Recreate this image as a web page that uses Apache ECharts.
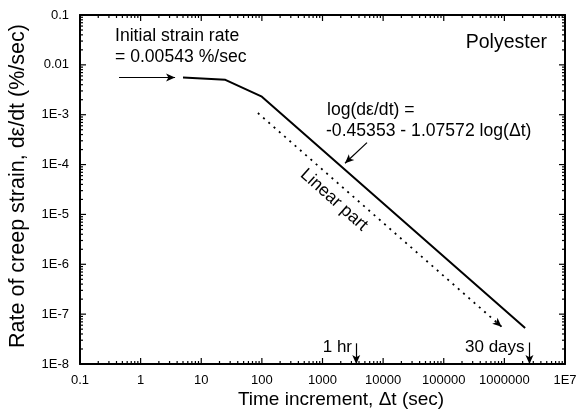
<!DOCTYPE html>
<html>
<head>
<meta charset="utf-8">
<script src="https://cdn.jsdelivr.net/npm/echarts@6/dist/echarts.min.js"></script>
<style>
  html, body { margin: 0; padding: 0; background: #fff; }
  #chart { width: 581px; height: 417px; }
</style>
</head>
<body>
<div id="chart"></div>
<script>
// Creep strain rate of polyester vs. time increment (log-log)
const timeSec    = [5, 25, 100, 2.2e6];
const strainRate = [0.0056, 0.005, 0.0023, 5.3e-8];

// dotted "linear part" guide
const linearStart = [86, 1.08e-3];
const linearEnd   = [9.0e5, 5.6e-8];

// arrows: initial rate, equation pointer, 1 hr, 30 days
const initialArrow  = [[0.44, 0.0056], [3.7, 0.0056]];
const equationArrow = [[5420, 2.75e-4], [2350, 1.06e-4]];
const hourArrow     = [[3600, 2.6e-8], [3600, 1e-8]];
const monthArrow    = [[2.592e6, 2.7e-8], [2.592e6, 1e-8]];

const xTickLabels = ['0.1', '1', '10', '100', '1000', '10000', '100000', '1000000', '1E7'];
const yTickLabels = ['1E-8', '1E-7', '1E-6', '1E-5', '1E-4', '1E-3', '0.01', '0.1'];

const X_MIN = 0.1, X_MAX = 1e7, Y_MIN = 1e-8, Y_MAX = 0.1;
const FONT = "'Liberation Sans', Arial, Helvetica, sans-serif";

// tick marks (decades and 2..9 within each decade) for the frame
function logTicks(lo, hi) {
  const out = [];
  for (let e = Math.round(Math.log10(lo)); e < Math.round(Math.log10(hi)); e++) {
    for (let k = 1; k <= 9; k++) out.push({ v: k * Math.pow(10, e), major: k === 1 });
  }
  out.push({ v: hi, major: true });
  return out;
}
const tickData = [];
logTicks(X_MIN, X_MAX).forEach(t => tickData.push([t.v, Y_MIN, 0, t.major ? 1 : 0]));
logTicks(Y_MIN, Y_MAX).forEach(t => tickData.push([X_MIN, t.v, 1, t.major ? 1 : 0]));

const chart = echarts.init(document.getElementById('chart'));

function arrowLine(pair) {
  return [
    { coord: pair[0], symbol: 'none' },
    { coord: pair[1], symbol: 'arrow', symbolSize: [6, 9] }
  ];
}

const option = {
  animation: false,
  backgroundColor: '#fff',
  grid: { left: 80, top: 15, width: 485, height: 349, show: false },
  xAxis: [{
    type: 'log', logBase: 10, min: X_MIN, max: X_MAX, interval: 1,
    position: 'bottom',
    axisLine: { show: true, lineStyle: { color: '#000', width: 2 } },
    axisTick: { show: false },
    splitLine: { show: false },
    axisLabel: {
      margin: 10, color: '#000', fontSize: 13, fontFamily: FONT,
      formatter: v => xTickLabels[Math.round(Math.log10(v)) + 1]
    }
  }, {
    type: 'log', logBase: 10, min: X_MIN, max: X_MAX, interval: 1,
    position: 'top',
    axisLine: { show: true, lineStyle: { color: '#000', width: 2 } },
    axisTick: { show: false }, axisLabel: { show: false }, splitLine: { show: false }
  }],
  yAxis: [{
    type: 'log', logBase: 10, min: Y_MIN, max: Y_MAX, interval: 1,
    position: 'left',
    axisLine: { show: true, lineStyle: { color: '#000', width: 2 } },
    axisTick: { show: false },
    splitLine: { show: false },
    axisLabel: {
      margin: 11, color: '#000', fontSize: 13, fontFamily: FONT,
      formatter: v => yTickLabels[Math.round(Math.log10(v)) + 8]
    }
  }, {
    type: 'log', logBase: 10, min: Y_MIN, max: Y_MAX, interval: 1,
    position: 'right',
    axisLine: { show: true, lineStyle: { color: '#000', width: 2 } },
    axisTick: { show: false }, axisLabel: { show: false }, splitLine: { show: false }
  }],
  series: [
    {
      // inward ticks on all four sides of the frame
      type: 'custom',
      xAxisIndex: 0, yAxisIndex: 0,
      silent: true,
      data: tickData,
      renderItem: function (params, api) {
        const v = api.value(0), w = api.value(1), axis = api.value(2), major = api.value(3);
        const len = major ? 6 : 3;
        const bl = api.coord([X_MIN, Y_MIN]);
        const tr = api.coord([X_MAX, Y_MAX]);
        const style = { stroke: '#000', lineWidth: 1.2 };
        if (axis === 0) {
          const px = api.coord([v, Y_MIN])[0];
          return { type: 'group', children: [
            { type: 'line', shape: { x1: px, y1: bl[1], x2: px, y2: bl[1] - len }, style },
            { type: 'line', shape: { x1: px, y1: tr[1], x2: px, y2: tr[1] + len }, style }
          ]};
        }
        const py = api.coord([X_MIN, w])[1];
        return { type: 'group', children: [
          { type: 'line', shape: { x1: bl[0], y1: py, x2: bl[0] + len, y2: py }, style },
          { type: 'line', shape: { x1: tr[0], y1: py, x2: tr[0] - len, y2: py }, style }
        ]};
      }
    },
    {
      // measured creep-rate curve
      type: 'line',
      xAxisIndex: 0, yAxisIndex: 0,
      data: timeSec.map((t, i) => [t, strainRate[i]]),
      showSymbol: false, symbol: 'none',
      lineStyle: { color: '#000', width: 2 },
      silent: true,
      markLine: {
        silent: true,
        label: { show: false },
        lineStyle: { color: '#000', width: 1.2, type: 'solid' },
        data: [
          arrowLine(initialArrow),
          arrowLine(equationArrow),
          arrowLine(hourArrow),
          arrowLine(monthArrow),
          [
            { coord: linearStart, symbol: 'none', lineStyle: { type: [2, 5], width: 1.8 } },
            { coord: linearEnd, symbol: 'arrow', symbolSize: [6, 9] }
          ]
        ]
      }
    }
  ],
  graphic: [
    { type: 'text', x: 115, y: 36, style: { text: 'Initial strain rate', font: '17.6px ' + FONT, fill: '#000', verticalAlign: 'middle' } },
    { type: 'text', x: 115, y: 57, style: { text: '= 0.00543 %/sec', font: '17.6px ' + FONT, fill: '#000', verticalAlign: 'middle' } },
    { type: 'text', x: 547, y: 43, style: { text: 'Polyester', font: '19.5px ' + FONT, fill: '#000', align: 'right', verticalAlign: 'middle' } },
    { type: 'text', x: 327, y: 110, style: { text: 'log(d\u03b5/dt) =', font: '17.6px ' + FONT, fill: '#000', verticalAlign: 'middle' } },
    { type: 'text', x: 326, y: 131, style: { text: '-0.45353 - 1.07572 log(\u0394t)', font: '17.6px ' + FONT, fill: '#000', verticalAlign: 'middle' } },
    { type: 'text', x: 334, y: 200, rotation: -0.73, style: { text: 'Linear part', font: '17.5px ' + FONT, fill: '#000', align: 'center', verticalAlign: 'middle' } },
    { type: 'text', x: 352, y: 347, style: { text: '1 hr', font: '17px ' + FONT, fill: '#000', align: 'right', verticalAlign: 'middle' } },
    { type: 'text', x: 465, y: 347, style: { text: '30 days', font: '17px ' + FONT, fill: '#000', verticalAlign: 'middle' } },
    { type: 'text', x: 341, y: 400, style: { text: 'Time increment, \u0394t (sec)', font: '19px ' + FONT, fill: '#000', align: 'center', verticalAlign: 'middle' } },
    { type: 'text', x: 18, y: 186, rotation: Math.PI / 2, style: { text: 'Rate of creep strain, d\u03b5/dt (%/sec)', font: '21.5px ' + FONT, fill: '#000', align: 'center', verticalAlign: 'middle' } }
  ]
};

chart.setOption(option);
</script>
</body>
</html>
